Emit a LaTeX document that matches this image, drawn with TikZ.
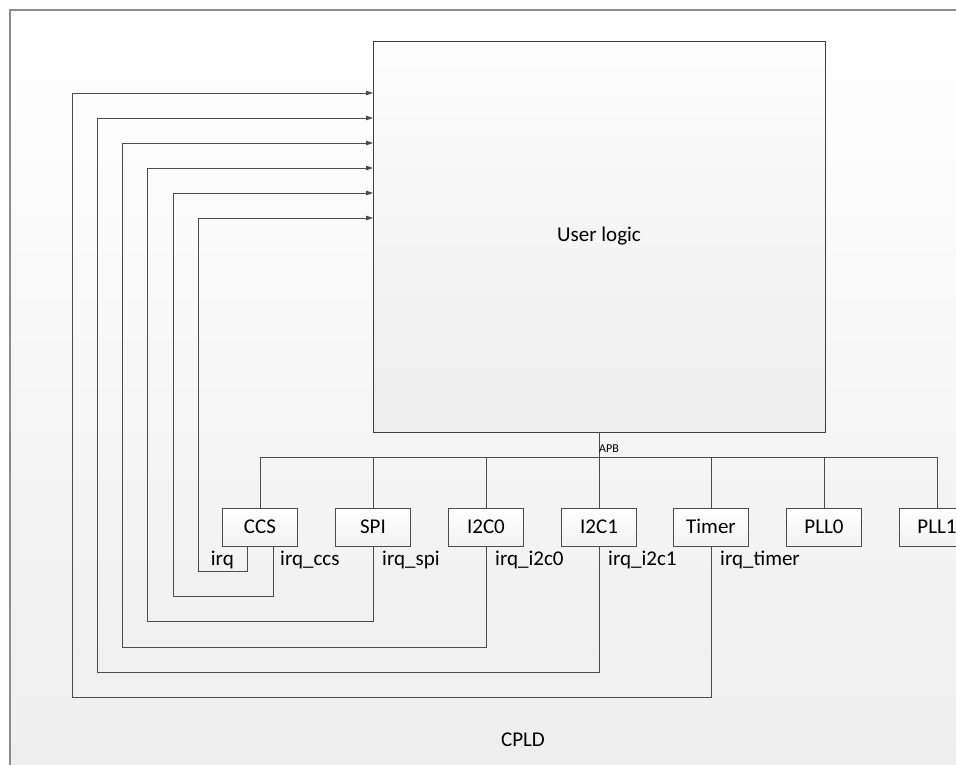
\documentclass[tikz,border=0pt]{standalone}
\usepackage{fontspec}
\setmainfont{Carlito}
\usetikzlibrary{arrows.meta}
\begin{document}
\begin{tikzpicture}[x=1pt,y=-1pt,
  wire/.style={draw=black!70,line width=0.9pt},
  arr/.style={wire,-{Triangle[length=7pt,width=4.5pt]}},
  block/.style={draw=black!70,line width=0.9pt,top color=white,bottom color=black!5,
    minimum width=75pt,minimum height=38pt,inner sep=0pt,text height=13.5pt,text depth=0pt,
    font=\fontsize{21}{25}\selectfont},
  lbl/.style={inner sep=0pt,font=\fontsize{21}{25}\selectfont}]
\useasboundingbox (0,0) rectangle (956,764);
% CPLD frame with its background
\shade[top color=white,bottom color=black!7] (10,10) rectangle (1000,800);
\draw[draw=black!45,line width=1.4pt] (1000,10) -- (10,10) -- (10,800);
\node[lbl] (cpld) at (523,740) {CPLD};
% user logic
\node[draw=black!75,line width=0.9pt,top color=black!1,bottom color=black!7,
  minimum width=452pt,minimum height=391pt,inner sep=0pt,
  font=\fontsize{21}{25}\selectfont] (ul) at (599,236.5) {User logic};
% peripherals
\node[block] (ccs)   at (260,527) {CCS};
\node[block] (spi)   at (373,527) {SPI};
\node[block] (i2c0)  at (486,527) {I2C0};
\node[block] (i2c1)  at (599,527) {I2C1};
\node[block] (timer) at (711,527) {Timer};
\node[block] (pll0)  at (824,527) {PLL0};
\node[block] (pll1)  at (937,527) {PLL1};
% APB bus
\coordinate (busl) at (260,457);
\coordinate (busr) at (937,457);
\draw[wire] (ul.south) -- (ul.south |- busl);
\draw[wire] (busl) -- (busr);
\foreach \n in {ccs,spi,i2c0,i2c1,timer,pll0,pll1}
  \draw[wire] (\n.north) -- (\n.north |- busl);
\node[inner sep=0pt,anchor=base west,font=\fontsize{12}{14}\selectfont] (apb) at (599,452) {APB};
% interrupt entry points on the user logic block
\coordinate (in1) at (373,93);
\coordinate (in2) at (373,118);
\coordinate (in3) at (373,143);
\coordinate (in4) at (373,168);
\coordinate (in5) at (373,193);
\coordinate (in6) at (373,218);
% interrupt lines
\draw[arr] ([xshift=-13pt]ccs.south) |- (198,571) |- (in6);
\draw[arr] ([xshift=13pt]ccs.south) |- (173,596) |- (in5);
\draw[arr] (spi.south) |- (147,621) |- (in4);
\draw[arr] (i2c0.south) |- (122,647) |- (in3);
\draw[arr] (i2c1.south) |- (97,672) |- (in2);
\draw[arr] (timer.south) |- (72,697) |- (in1);
% interrupt labels
\node[lbl,anchor=base east] (lirq) at (234,565) {irq};
\node[lbl,anchor=base west] (lccs) at (280,565) {irq\_ccs};
\node[lbl,anchor=base west] (lspi) at (382,565) {irq\_spi};
\node[lbl,anchor=base west] (li2c0) at (495,565) {irq\_i2c0};
\node[lbl,anchor=base west] (li2c1) at (608,565) {irq\_i2c1};
\node[lbl,anchor=base west] (ltimer) at (720,565) {irq\_timer};
\end{tikzpicture}
\end{document}
